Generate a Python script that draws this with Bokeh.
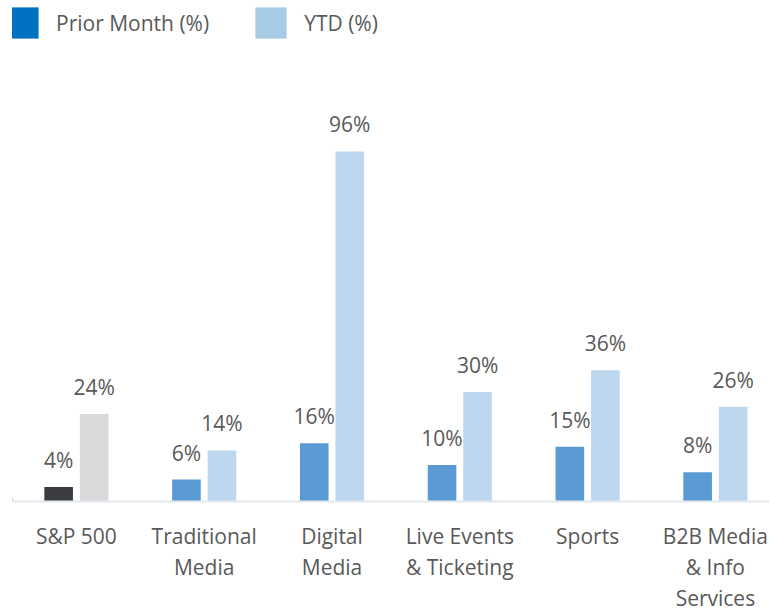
from bokeh.plotting import figure
from bokeh.models import ColumnDataSource, LabelSet, Range1d, FixedTicker, Legend, LegendItem
from bokeh.core.properties import value
from bokeh.embed import file_html
from bokeh.resources import INLINE

categories = ["S&P 500", "Traditional\nMedia", "Digital\nMedia", "Live Events\n& Ticketing", "Sports", "B2B Media\n& Info\nServices"]
prior_month = [4, 6, 16, 10, 15, 8]
ytd = [24, 14, 96, 30, 36, 26]
prior_colors = ["#3B3C40", "#5B9BD5", "#5B9BD5", "#5B9BD5", "#5B9BD5", "#5B9BD5"]
ytd_colors = ["#D9D9DB", "#BDD7EE", "#BDD7EE", "#BDD7EE", "#BDD7EE", "#BDD7EE"]

FONT = "Open Sans"
TXT = "#595959"
FS = "21px"

xs = list(range(len(categories)))
off = 0.139
src = ColumnDataSource(dict(
    x=xs,
    xp=[x - off for x in xs],
    xy=[x + off for x in xs],
    prior=prior_month,
    ytd=ytd,
    pc=prior_colors,
    yc=ytd_colors,
    pl=[f"{v}%" for v in prior_month],
    yl=[f"{v}%" for v in ytd],
))

fw = 757
p = figure(width=769, height=612, frame_width=fw, frame_height=501,
           output_backend="svg", toolbar_location=None,
           min_border_left=12, min_border_right=0, min_border_top=0, min_border_bottom=111,
           x_range=Range1d(-0.5, fw / 127.8 - 0.5), y_range=Range1d(0, 501 / 3.646))
p.outline_line_color = None
p.xgrid.visible = False
p.ygrid.visible = False
p.yaxis.visible = False

w = 0.224
p.vbar(x="xp", top="prior", width=w, fill_color="pc", line_color=None, source=src)
p.vbar(x="xy", top="ytd", width=w, fill_color="yc", line_color=None, source=src)

for xcol, ycol, tcol in (("xp", "prior", "pl"), ("xy", "ytd", "yl")):
    p.add_layout(LabelSet(x=xcol, y=ycol, text=tcol, source=src, y_offset=19,
                          text_align="center", text_baseline="alphabetic",
                          text_font=value(FONT), text_font_size=FS, text_color=TXT))

ax = p.xaxis[0]
ax.ticker = FixedTicker(ticks=xs)
ax.major_label_overrides = {i: c for i, c in enumerate(categories)}
ax.major_tick_line_color = None
ax.minor_tick_line_color = None
ax.axis_line_color = "#E4E9F0"
ax.axis_line_width = 2
ax.major_label_text_font = FONT
ax.major_label_text_font_size = FS
ax.major_label_text_color = TXT
ax.major_label_text_line_height = 1.12
ax.major_label_standoff = 14

# legend swatches (drawn off-range so only the legend shows them)
lg1 = p.vbar(x=[-50], top=[1], width=0.1, fill_color="#0070C0", line_color=None)
lg2 = p.vbar(x=[-50], top=[1], width=0.1, fill_color="#A6CBE5", line_color=None)
legend = Legend(items=[LegendItem(label="Prior Month (%)", renderers=[lg1]),
                       LegendItem(label="YTD (%)", renderers=[lg2])],
                orientation="horizontal", location=(-9, 501 - 42),
                glyph_width=39, glyph_height=39, label_standoff=14, spacing=42,
                padding=0, margin=0, border_line_color=None, background_fill_alpha=0,
                label_text_font=FONT, label_text_font_size=FS, label_text_color=TXT)
p.add_layout(legend)

open("out.html", "w").write(file_html(p, INLINE))
